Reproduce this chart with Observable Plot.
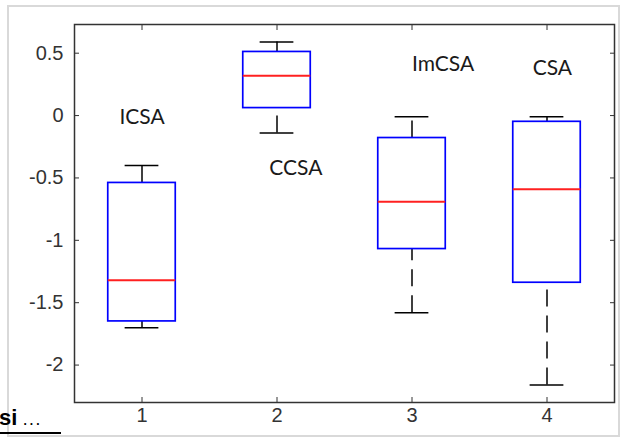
<!DOCTYPE html>
<html>
<head>
<meta charset="utf-8">
<script src="https://cdn.jsdelivr.net/npm/d3@7"></script>
<script src="https://cdn.jsdelivr.net/npm/@observablehq/plot@0.6"></script>
<style>
  html, body { margin: 0; padding: 0; background: #fff; }
  #wrap { position: relative; width: 623px; height: 441px; overflow: hidden; }
  #border { position: absolute; left: 7px; top: 5px; width: 613px; height: 432px; border: 2px solid #d9d9d9; box-sizing: border-box; }
  #chart { position: absolute; left: 0; top: 0; }
  #note { position: absolute; left: -1px; top: 407px; width: 62px; font: bold 22px "Liberation Sans", Arial, sans-serif; color: #000; border-bottom: 2px solid #000; line-height: 22px; white-space: nowrap; }
</style>
</head>
<body>
<div id="wrap">
  <div id="border"></div>
  <div id="chart"></div>
  <div id="note">si <span style="font-size:12px;letter-spacing:3px">...</span></div>
</div>
<script>
// Data
const groups = [1, 2, 3, 4];
const whiskerHigh = [-0.40, 0.59, -0.01, -0.01];
const q3 = [-0.54, 0.51, -0.18, -0.05];
const median = [-1.32, 0.32, -0.69, -0.59];
const q1 = [-1.65, 0.06, -1.07, -1.34];
const whiskerLow = [-1.70, -0.14, -1.58, -2.16];

const labels = ["ICSA", "CCSA", "ImCSA", "CSA"];
const labelX = [1.0, 2.14, 3.23, 4.04];
const labelY = [-0.01, -0.42, 0.41, 0.38];

const xTicks = [1, 2, 3, 4];
const yTicks = [-2, -1.5, -1, -0.5, 0, 0.5];

const rows = groups.map((g, i) => ({
  g, hi: whiskerHigh[i], q3: q3[i], med: median[i], q1: q1[i], lo: whiskerLow[i]
}));
const labelRows = labels.map((t, i) => ({t, x: labelX[i], y: labelY[i]}));

const boxHalf = 0.25, capHalf = 0.125;
const dash = "17,9";
const fmt = d => String(d);

const chart = Plot.plot({
  width: 623,
  height: 441,
  marginTop: 24,
  marginBottom: 39,
  marginLeft: 74,
  marginRight: 9,
  style: {fontFamily: "'Liberation Sans', Arial, sans-serif", fontSize: "20px", background: "transparent", overflow: "visible"},
  x: {domain: [0.5, 4.5]},
  y: {domain: [-2.3, 0.73]},
  marks: [
    // whiskers (drawn from lower value to higher value, dashed)
    Plot.ruleX(rows, {x: "g", y1: "q3", y2: "hi", stroke: "#000", strokeWidth: 1.5, strokeDasharray: dash}),
    Plot.ruleX(rows, {x: "g", y1: "lo", y2: "q1", stroke: "#000", strokeWidth: 1.5, strokeDasharray: dash}),
    // caps
    Plot.ruleY(rows, {y: "hi", x1: d => d.g - capHalf, x2: d => d.g + capHalf, stroke: "#000", strokeWidth: 1.5}),
    Plot.ruleY(rows, {y: "lo", x1: d => d.g - capHalf, x2: d => d.g + capHalf, stroke: "#000", strokeWidth: 1.5}),
    // boxes
    Plot.rect(rows, {x1: d => d.g - boxHalf, x2: d => d.g + boxHalf, y1: "q1", y2: "q3", fill: "none", stroke: "#0000ff", strokeWidth: 1.7}),
    // medians
    Plot.ruleY(rows, {y: "med", x1: d => d.g - boxHalf, x2: d => d.g + boxHalf, stroke: "#ff2020", strokeWidth: 2}),
    // annotations
    Plot.text(labelRows, {x: "x", y: "y", text: "t", fontFamily: "Lato, 'Open Sans', sans-serif", fontSize: 21, fill: "#1a1a1a"}),
    // frame
    Plot.frame({stroke: "#333", strokeWidth: 1.5}),
    // tick labels
    Plot.axisY({anchor: "left", ticks: yTicks, tickSize: 0, tickPadding: 11, tickFormat: fmt, fill: "#333", label: null}),
    Plot.axisX({anchor: "bottom", ticks: xTicks, tickSize: 0, tickPadding: 5, tickFormat: fmt, fill: "#333", label: null}),
    // inward ticks on all four sides
    Plot.axisY({anchor: "left", ticks: yTicks, tickSize: -5, fill: "none", stroke: "#333", label: null}),
    Plot.axisY({anchor: "right", ticks: yTicks, tickSize: -5, fill: "none", stroke: "#333", label: null}),
    Plot.axisX({anchor: "bottom", ticks: xTicks, tickSize: -5, fill: "none", stroke: "#333", label: null}),
    Plot.axisX({anchor: "top", ticks: xTicks, tickSize: -5, fill: "none", stroke: "#333", label: null})
  ]
});
document.getElementById("chart").appendChild(chart);
</script>
</body>
</html>
